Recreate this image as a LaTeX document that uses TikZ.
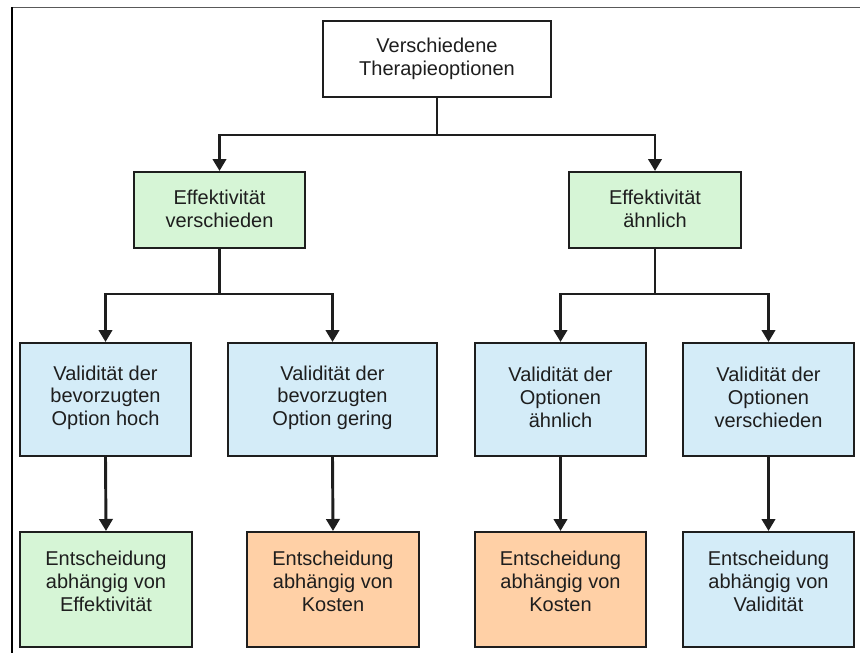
\documentclass[tikz,border=0pt]{standalone}
\usepackage{fontspec}
\setmainfont{Liberation Sans}
\usetikzlibrary{arrows.meta}
\definecolor{gfill}{HTML}{D6F5D6}
\definecolor{bfill}{HTML}{D4ECF8}
\definecolor{ofill}{HTML}{FFD0A6}
\definecolor{ink}{HTML}{1E1E1E}
\begin{document}
\begin{tikzpicture}[x=0.75pt,y=-0.75pt,
  box/.style={draw=ink, line width=1.5pt, rectangle, inner sep=0pt},
  txt/.style={align=center, text=ink, font=\fontsize{15pt}{17pt}\selectfont, inner sep=0pt},
  conn/.style={draw=ink, line width=2.2pt, line join=miter},
  arr/.style={conn, -{Triangle[width=10pt,length=9pt]}}]
\useasboundingbox (0,0) rectangle (860,653);
% frame
\draw[gray!70!black, line width=1.2pt] (12,7.5) -- (860,7.5);
\draw[black, line width=0.8pt] (12,7) -- (12,653);
% boxes
\node[box, fill=white, minimum width=228*0.75pt, minimum height=76*0.75pt] (top) at (437,59) {};
\node[box, fill=gfill, minimum width=171*0.75pt, minimum height=76*0.75pt] (gl) at (219.5,210) {};
\node[box, fill=gfill, minimum width=172*0.75pt, minimum height=76*0.75pt] (gr) at (655,210) {};
\node[box, fill=bfill, minimum width=171*0.75pt, minimum height=113*0.75pt] (b1) at (105.5,399.5) {};
\node[box, fill=bfill, minimum width=209*0.75pt, minimum height=113*0.75pt] (b2) at (332.5,399.5) {};
\node[box, fill=bfill, minimum width=171*0.75pt, minimum height=113*0.75pt] (b3) at (560.5,399.5) {};
\node[box, fill=bfill, minimum width=171*0.75pt, minimum height=113*0.75pt] (b4) at (768.5,399.5) {};
\node[box, fill=gfill, minimum width=172*0.75pt, minimum height=115*0.75pt] (d1) at (106,589.5) {};
\node[box, fill=ofill, minimum width=172*0.75pt, minimum height=115*0.75pt] (d2) at (333,589.5) {};
\node[box, fill=ofill, minimum width=171*0.75pt, minimum height=115*0.75pt] (d3) at (560.5,589.5) {};
\node[box, fill=bfill, minimum width=171*0.75pt, minimum height=115*0.75pt] (d4) at (768.5,589.5) {};
% texts
\node[txt] (ttop) at (top.center) {Verschiedene\\Therapieoptionen};
\node[txt] (tgl) at ([yshift=1pt]gl.center) {Effektivität\\verschieden};
\node[txt] (tgr) at ([yshift=1pt]gr.center) {Effektivität\\ähnlich};
\node[txt] (tb1) at ([yshift=1.5pt]b1.center) {Validität der\\bevorzugten\\Option hoch};
\node[txt] (tb2) at ([yshift=1.5pt]b2.center) {Validität der\\bevorzugten\\Option gering};
\node[txt] (tb3) at ([yshift=1.5pt]b3.center) {Validität der\\Optionen\\ähnlich};
\node[txt] (tb4) at ([yshift=1.5pt]b4.center) {Validität der\\Optionen\\verschieden};
\node[txt] (td1) at ([yshift=6pt]d1.center) {Entscheidung\\abhängig von\\Effektivität};
\node[txt] (td2) at ([yshift=6pt]d2.center) {Entscheidung\\abhängig von\\Kosten};
\node[txt] (td3) at ([yshift=6pt]d3.center) {Entscheidung\\abhängig von\\Kosten};
\node[txt] (td4) at ([yshift=6pt]d4.center) {Entscheidung\\abhängig von\\Validität};
% junctions
\coordinate (j0) at (437,135);
\coordinate (j1) at (219.5,294);
\coordinate (j2) at (655,294);
% connectors
\draw[conn] (top.south) -- (j0);
\draw[arr] (j0) -| (gl.north);
\draw[arr] (j0) -| (gr.north);
\draw[conn] (gl.south) -- (j1);
\draw[arr] (j1) -| (b1.north);
\draw[arr] (j1) -| (b2.north);
\draw[conn] (gr.south) -- (j2);
\draw[arr] (j2) -| (b3.north);
\draw[arr] (j2) -| (b4.north);
\draw[arr] (b1.south) -- (d1.north);
\draw[arr] (b2.south) -- (d2.north);
\draw[arr] (b3.south) -- (d3.north);
\draw[arr] (b4.south) -- (d4.north);
\end{tikzpicture}
\end{document}
